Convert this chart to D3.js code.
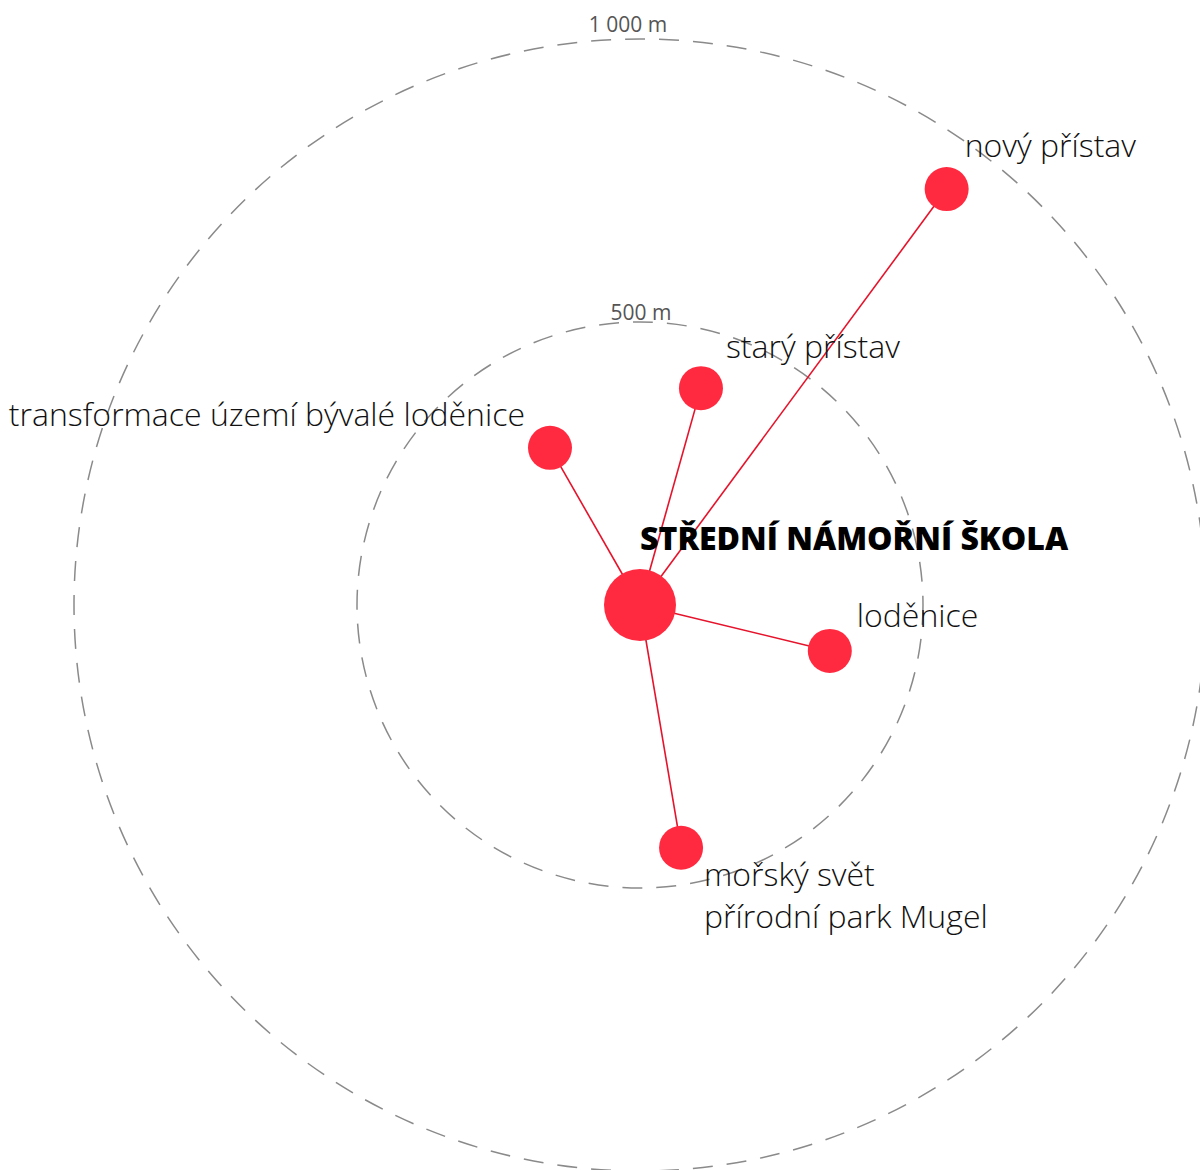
<!DOCTYPE html>
<html>
<head>
<meta charset="utf-8">
<script src="https://cdn.jsdelivr.net/npm/d3@7"></script>
<style>
  html, body { margin: 0; padding: 0; background: #fff; }
  svg { display: block; }
</style>
</head>
<body>
<svg id="chart" width="1200" height="1170"></svg>
<script>
// ---- data ----
const centerName = "STŘEDNÍ NÁMOŘNÍ ŠKOLA";
const places = ["nový přístav", "starý přístav", "transformace území bývalé loděnice", "loděnice", "mořský svět\npřírodní park Mugel"];
const distances = [913, 398, 320, 345, 435];      // metres from the school
const bearings = [36.4, 15.7, 330.2, 103.6, 170.4]; // degrees, clockwise from north
const rings = [500, 1000];
const ringLabels = ["500 m", "1 000 m"];

// ---- layout ----
const W = 1200, H = 1170;
const cx = 640, cy = 605;
const svg = d3.select("#chart");
const r = d3.scaleLinear().domain([0, 1000]).range([0, 566]);
const font = "'Open Sans', sans-serif";

// rings
svg.append("g").selectAll("circle").data(rings).join("circle")
  .attr("cx", cx).attr("cy", cy).attr("r", d => r(d))
  .attr("fill", "none").attr("stroke", "#8a8a8a").attr("stroke-width", 1.5)
  .attr("stroke-dasharray", "20 14");

const ringLabelDx = [1, -12];
const ringLabelDy = [-2, -7];
svg.append("g").selectAll("text").data(rings).join("text")
  .attr("x", (d, i) => cx + ringLabelDx[i])
  .attr("y", (d, i) => cy - r(d) + ringLabelDy[i])
  .attr("text-anchor", "middle")
  .attr("font-family", font).attr("font-weight", 400).attr("font-size", 21)
  .attr("fill", "#555")
  .text((d, i) => ringLabels[i]);

const nodes = places.map((name, i) => {
  const a = bearings[i] * Math.PI / 180;
  return { name, x: cx + r(distances[i]) * Math.sin(a), y: cy - r(distances[i]) * Math.cos(a) };
});

// links
svg.append("g").selectAll("line").data(nodes).join("line")
  .attr("x1", cx).attr("y1", cy)
  .attr("x2", d => d.x).attr("y2", d => d.y)
  .attr("stroke", "#e5132b").attr("stroke-width", 1.6);

// center node
svg.append("circle").attr("cx", cx).attr("cy", cy).attr("r", 36).attr("fill", "#ff2a40");

// place nodes
svg.append("g").selectAll("circle").data(nodes).join("circle")
  .attr("cx", d => d.x).attr("cy", d => d.y).attr("r", 22)
  .attr("fill", "#ff2a40");

// labels (offsets relative to node)
const labelOffsets = {
  "nový přístav": { dx: 18, dy: -32, anchor: "start" },
  "starý přístav": { dx: 25, dy: -30, anchor: "start" },
  "transformace území bývalé loděnice": { dx: -25, dy: -22, anchor: "end" },
  "loděnice": { dx: 27, dy: -24, anchor: "start" },
  "mořský svět\npřírodní park Mugel": { dx: 23, dy: 38, anchor: "start" }
};
const lbl = svg.append("g").selectAll("text").data(nodes).join("text")
  .attr("x", d => d.x + labelOffsets[d.name].dx)
  .attr("y", d => d.y + labelOffsets[d.name].dy)
  .attr("text-anchor", d => labelOffsets[d.name].anchor)
  .attr("font-family", font).attr("font-weight", 300).attr("font-size", 32)
  .attr("fill", "#111");
lbl.each(function(d) {
  const t = d3.select(this);
  const x = d.x + labelOffsets[d.name].dx;
  d.name.split("\n").forEach((line, j) => {
    t.append("tspan").attr("x", x).attr("dy", j === 0 ? 0 : 42).text(line);
  });
});

// center label
svg.append("text").attr("x", cx).attr("y", cy - 55)
  .attr("font-family", font).attr("font-weight", 800).attr("font-size", 32)
  .attr("fill", "#000").text(centerName);
</script>
</body>
</html>
